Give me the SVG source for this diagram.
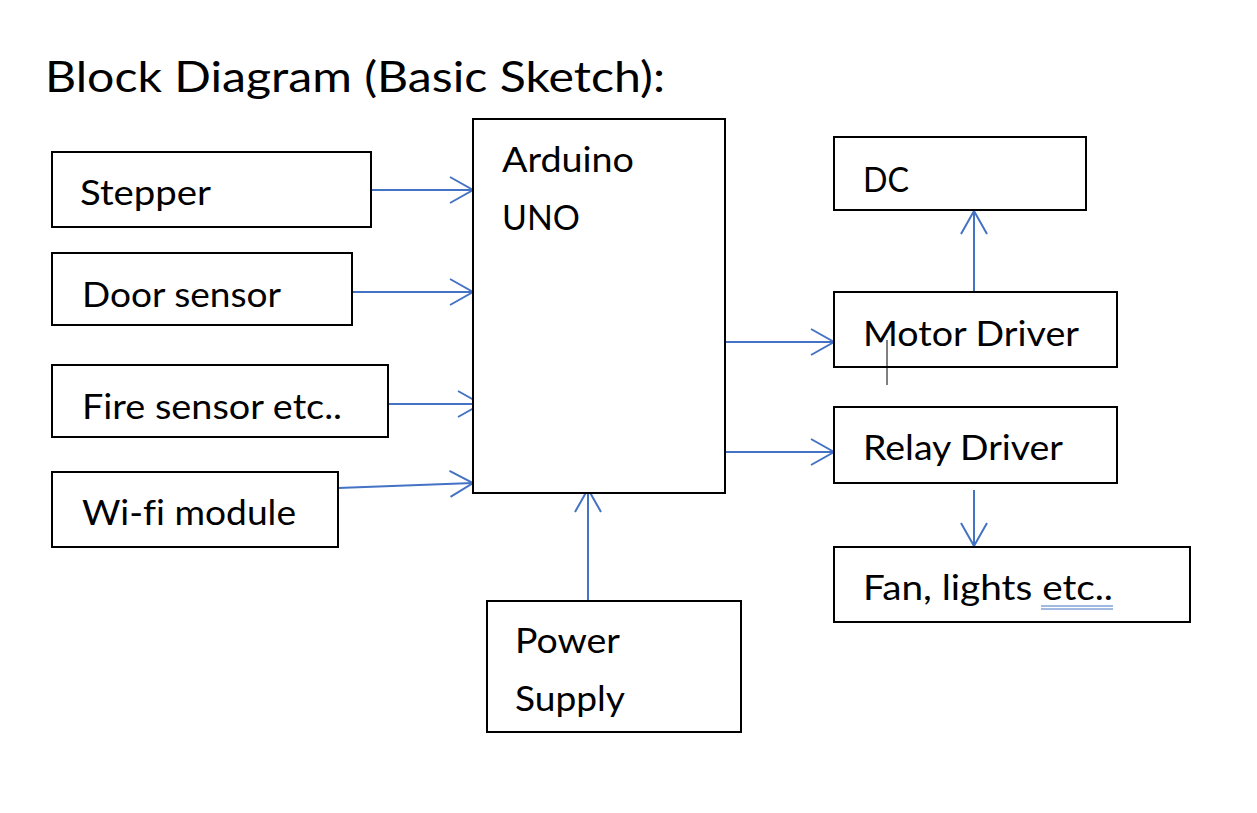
<svg xmlns="http://www.w3.org/2000/svg" width="1257" height="813" viewBox="0 0 1257 813">
<defs>
<style>
.box{fill:#fff;stroke:#000;stroke-width:2}
.t{font-family:Lato,"Open Sans","Liberation Sans",sans-serif;font-size:35px;fill:#000;font-variant-ligatures:none}
.title{font-family:Lato,"Open Sans","Liberation Sans",sans-serif;font-size:43px;fill:#000;font-variant-ligatures:none}
.c{stroke:#4472C4;stroke-width:2;fill:none}
</style>
<marker id="ah" viewBox="0 0 26 28" refX="24" refY="14" markerWidth="26" markerHeight="28" markerUnits="userSpaceOnUse" orient="auto">
<path d="M1,1 L24,14 L1,27" fill="none" stroke="#4472C4" stroke-width="2"/>
</marker>
</defs>
<rect width="1257" height="813" fill="#fff"/>
<text class="title" x="45" y="92" textLength="620" lengthAdjust="spacingAndGlyphs">Block Diagram (Basic Sketch):</text>

<g id="connectors">
<line class="c" x1="371" y1="190" x2="473" y2="190" marker-end="url(#ah)"/>
<line class="c" x1="352" y1="292" x2="473" y2="292" marker-end="url(#ah)"/>
<line class="c" x1="388" y1="404" x2="481" y2="404" marker-end="url(#ah)"/>
<line class="c" x1="338" y1="488" x2="473" y2="483" marker-end="url(#ah)"/>
<line class="c" x1="725" y1="342" x2="834" y2="342" marker-end="url(#ah)"/>
<line class="c" x1="725" y1="452" x2="834" y2="452" marker-end="url(#ah)"/>
<line class="c" x1="974" y1="292" x2="974" y2="211" marker-end="url(#ah)"/>
<line class="c" x1="974" y1="490" x2="974" y2="546" marker-end="url(#ah)"/>
<line class="c" x1="588" y1="604" x2="588" y2="489" marker-end="url(#ah)"/>
</g>

<g id="stepper">
<rect class="box" x="52" y="152" width="319" height="75"/>
<text class="t" x="80" y="205" textLength="131" lengthAdjust="spacingAndGlyphs">Stepper</text>
</g>
<g id="door-sensor">
<rect class="box" x="52" y="253" width="300" height="72"/>
<text class="t" x="82" y="307" textLength="199" lengthAdjust="spacingAndGlyphs">Door sensor</text>
</g>
<g id="fire-sensor">
<rect class="box" x="52" y="365" width="336" height="72"/>
<text class="t" x="82" y="419" textLength="260" lengthAdjust="spacingAndGlyphs">Fire sensor etc..</text>
</g>
<g id="wifi-module">
<rect class="box" x="52" y="472" width="286" height="75"/>
<text class="t" x="82" y="525" textLength="214" lengthAdjust="spacingAndGlyphs">Wi-fi module</text>
</g>
<g id="arduino">
<rect class="box" x="473" y="119" width="252" height="374"/>
<text class="t" x="502" y="172" textLength="132" lengthAdjust="spacingAndGlyphs">Arduino</text>
<text class="t" x="502" y="230" textLength="78" lengthAdjust="spacingAndGlyphs">UNO</text>
</g>
<g id="power-supply">
<rect class="box" x="487" y="601" width="254" height="131"/>
<text class="t" x="515" y="653" textLength="105" lengthAdjust="spacingAndGlyphs">Power</text>
<text class="t" x="515" y="711" textLength="110" lengthAdjust="spacingAndGlyphs">Supply</text>
</g>
<g id="dc">
<rect class="box" x="834" y="137" width="252" height="73"/>
<text class="t" x="863" y="192" textLength="46" lengthAdjust="spacingAndGlyphs">DC</text>
</g>
<g id="motor-driver">
<rect class="box" x="834" y="292" width="283" height="75"/>
<text class="t" x="863" y="346" textLength="216" lengthAdjust="spacingAndGlyphs">Motor Driver</text>
<line x1="887" y1="340" x2="887" y2="385" stroke="#000" stroke-width="1"/>
</g>
<g id="relay-driver">
<rect class="box" x="834" y="407" width="283" height="76"/>
<text class="t" x="863" y="460" textLength="200" lengthAdjust="spacingAndGlyphs">Relay Driver</text>
</g>
<g id="fan-lights">
<rect class="box" x="834" y="547" width="356" height="75"/>
<text class="t" x="863" y="600" textLength="250" lengthAdjust="spacingAndGlyphs">Fan, lights etc..</text>
<line x1="1041" y1="606" x2="1113" y2="606" stroke="#4472C4" stroke-width="1"/>
<line x1="1041" y1="609" x2="1113" y2="609" stroke="#4472C4" stroke-width="1"/>
</g>
</svg>
